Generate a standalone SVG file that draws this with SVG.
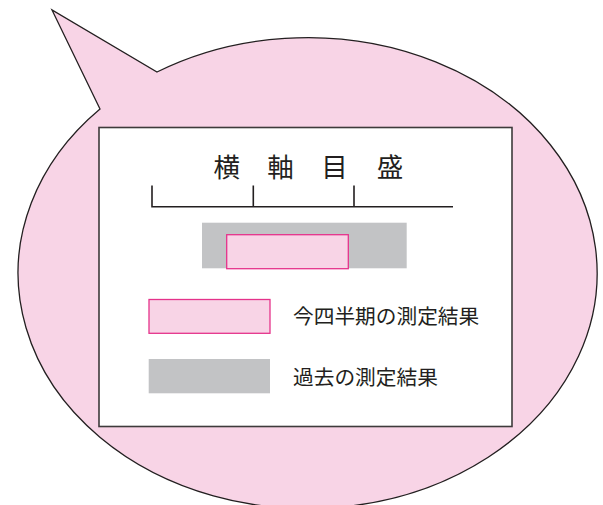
<svg xmlns="http://www.w3.org/2000/svg" width="603" height="505" viewBox="0 0 603 505">
<style>
.bubble{fill:#f8d4e6;stroke:#231f20;stroke-width:1.3;stroke-linejoin:miter}
.frame{fill:#ffffff;stroke:#3e3a3b;stroke-width:1.6}
.axis{fill:none;stroke:#231f20;stroke-width:1.6}
.cur{fill:#f8d4e6;stroke:#e5338b;stroke-width:1.3}
.past{fill:#c2c3c5;stroke:none}
.t{font-family:"Noto Sans CJK JP","Noto Sans CJK SC",sans-serif;fill:#231f20}
.title{font-size:26.5px;text-anchor:middle}
.lab{font-size:20.7px}
</style>
<rect width="603" height="505" fill="#ffffff"/>
<g id="bubble">
<path class="bubble" d="M100,109 L52,10 L157,72 A289.5,235.5 0 1 1 100,109 Z"/>
</g>
<g id="panel">
<rect class="frame" x="99" y="127.5" width="413" height="299"/>
</g>
<g id="axis-title">
<text class="t title" x="226.7" y="177">横</text>
<text class="t title" x="280.5" y="177">軸</text>
<text class="t title" x="334.5" y="177">目</text>
<text class="t title" x="390" y="177">盛</text>
</g>
<g id="axis">
<path class="axis" d="M152,185.5 V206.7 H453 M253.3,185.5 V206.7 M354,185.5 V206.7"/>
</g>
<g id="bars">
<rect class="past" x="202" y="222.7" width="204.7" height="45.6"/>
<rect class="cur" x="226.7" y="234.7" width="121.6" height="34"/>
</g>
<g id="legend-current">
<rect class="cur" x="149" y="299.5" width="121" height="33.8"/>
<text class="t lab" x="293" y="324">今四半期の測定結果</text>
</g>
<g id="legend-past">
<rect class="past" x="148.7" y="359" width="121.3" height="34.3"/>
<text class="t lab" x="293" y="384.5">過去の測定結果</text>
</g>
</svg>
